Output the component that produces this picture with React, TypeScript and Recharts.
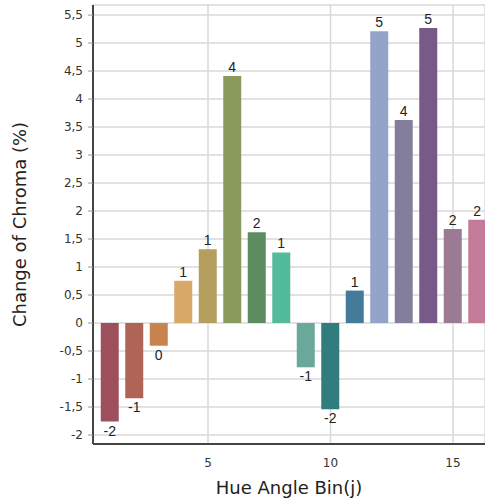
import React from "react";
import { BarChart, Bar, XAxis, YAxis, CartesianGrid, Cell, LabelList, Label } from "recharts";

const bins = [1, 2, 3, 4, 5, 6, 7, 8, 9, 10, 11, 12, 13, 14, 15, 16];
const chromaChange = [-1.76, -1.345, -0.405, 0.755, 1.32, 4.41, 1.62, 1.26, -0.79, -1.54, 0.58, 5.21, 3.625, 5.27, 1.68, 1.845];
const barColors = [
  "#9e4f5c", "#b06455", "#c8834c", "#d6a968", "#b49f5e", "#8a9a5b", "#5d8c60", "#54bb9a",
  "#6aa89a", "#317d7d", "#457b9a", "#94a3c8", "#837e9c", "#775a88", "#9b7b93", "#c47a99",
];
const yTicks = [-2, -1.5, -1, -0.5, 0, 0.5, 1, 1.5, 2, 2.5, 3, 3.5, 4, 4.5, 5, 5.5];
const xTicks = [5, 10, 15];

const data = bins.map((b, i) => ({ bin: b, value: chromaChange[i] }));

const fmt = (v: number) => String(v).replace(".", ",");

const BarLabel = (props: any) => {
  const { x, y, width, height, value } = props;
  const top = Math.min(y, y + height);
  const bottom = Math.max(y, y + height);
  const cx = x + width / 2;
  const r = Math.round(value);
  const txt = String(r === 0 ? 0 : r);
  if (value >= 0) {
    return (
      <text x={cx} y={top - 4} textAnchor="middle" fontFamily="'Liberation Sans', Arial, sans-serif" fontSize={14} fill="#222">
        {txt}
      </text>
    );
  }
  return (
    <text x={cx} y={bottom + 14} textAnchor="middle" fontFamily="'Liberation Sans', Arial, sans-serif" fontSize={14} fill="#222">
      {txt}
    </text>
  );
};

export default function App() {
  return (
    <div style={{ position: "absolute", left: 0, top: 0, width: 485, height: 502, background: "#fff" }}>
      <BarChart width={485} height={502} data={data} margin={{ top: 5, right: 0, bottom: 0, left: 0 }}>
        <CartesianGrid stroke="#d8d8d8" strokeWidth={1.5} />
        <XAxis
          type="number"
          dataKey="bin"
          domain={[0.306, 16.306]}
          allowDataOverflow
          ticks={xTicks}
          height={58}
          tickLine={false}
          axisLine={{ stroke: "#444", strokeWidth: 2 }}
          tickMargin={8}
          tick={{ fontFamily: "'DejaVu Sans', Verdana, sans-serif", fontSize: 12, fill: "#333" }}
        >
          <Label
            value="Hue Angle Bin(j)"
            position="insideBottom"
            offset={8}
            style={{ fontFamily: "'DejaVu Sans', Verdana, sans-serif", fontSize: 18, fill: "#222" }}
          />
        </XAxis>
        <YAxis
          type="number"
          domain={[-2.16, 5.68]}
          allowDataOverflow
          ticks={yTicks}
          width={93}
          tickSize={5}
          tickMargin={5}
          tickFormatter={fmt}
          tickLine={{ stroke: "#999" }}
          axisLine={{ stroke: "#444", strokeWidth: 2 }}
          tick={{ fontFamily: "'DejaVu Sans', Verdana, sans-serif", fontSize: 12, fill: "#333" }}
        >
          <Label
            value="Change of Chroma (%)"
            angle={-90}
            position="insideLeft"
            offset={20}
            style={{ textAnchor: "middle", fontFamily: "'DejaVu Sans', Verdana, sans-serif", fontSize: 18, fill: "#222" }}
          />
        </YAxis>
        <Bar dataKey="value" barSize={18} isAnimationActive={false}>
          {data.map((d, i) => (
            <Cell key={d.bin} fill={barColors[i]} />
          ))}
          <LabelList dataKey="value" content={BarLabel} />
        </Bar>
      </BarChart>
    </div>
  );
}
